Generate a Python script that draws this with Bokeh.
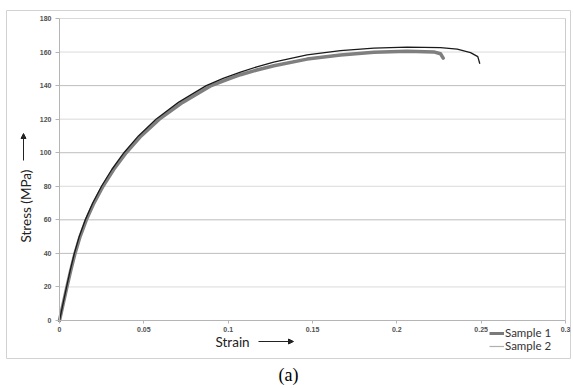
import math
from bokeh.plotting import figure
from bokeh.models import (Range1d, FixedTicker, Label, Arrow, NormalHead,
                          Legend, LegendItem, Title)
from bokeh.embed import file_html
from bokeh.resources import INLINE

# ---------------- data ----------------
s1_strain = [0, 0.0022, 0.0044, 0.0067, 0.0092, 0.0122, 0.0159, 0.0204, 0.0258, 0.0321,
             0.0395, 0.0484, 0.0592, 0.0730, 0.0900, 0.100, 0.1073, 0.117, 0.1271, 0.1468,
             0.1666, 0.1864, 0.2061, 0.2219, 0.2259, 0.2275]
s1_stress = [0, 10, 20, 30, 40, 50, 60, 70, 80, 90,
             100, 110, 120, 130, 140, 143.8, 146.5, 149.3, 151.8, 155.8,
             158.3, 159.9, 160.5, 160.1, 159, 156.4]

s2_strain = [0, 0.0021, 0.0042, 0.0064, 0.0088, 0.0117, 0.0153, 0.0197, 0.0249, 0.0310,
             0.0382, 0.0468, 0.0572, 0.0705, 0.0870, 0.097, 0.1073, 0.117, 0.127, 0.1468,
             0.1666, 0.1864, 0.2061, 0.2259, 0.2358, 0.2437, 0.248, 0.2492]
s2_stress = [0, 10, 20, 30, 40, 50, 60, 70, 80, 90,
             100, 110, 120, 130, 140, 144.3, 148, 151.2, 154, 158.3,
             160.9, 162.3, 162.9, 162.7, 161.8, 159.7, 157.3, 153]

series_names = ["Sample 1", "Sample 2"]
x_ticks = [0, 0.05, 0.1, 0.15, 0.2, 0.25, 0.3]
x_tick_labels = ["0", "0.05", "0.1", "0.15", "0.2", "0.25", "0.3"]
y_ticks = [0, 20, 40, 60, 80, 100, 120, 140, 160, 180]
y_tick_labels = ["0", "20", "40", "60", "80", "100", "120", "140", "160", "180"]
dark_grid_ticks = [40, 60, 100, 140]
x_title = "Strain"
y_title = "Stress (MPa)"
caption = "(a)"

# ---------------- layout (pixels) ----------------
W, H = 573, 388
B_LEFT, B_RIGHT, B_TOP, B_BOTTOM = 6, 3, 10, 30      # chart box = plot frame
FW, FH = W - B_LEFT - B_RIGHT, H - B_TOP - B_BOTTOM
PX0, PX1 = 53, 559      # data area inside the box (x, from box left): 0 and 0.3
PY0, PY1 = 310, 8       # data area inside the box (y, from box top): 0 and 180

x0, x1 = x_ticks[0], x_ticks[-1]
y0, y1 = y_ticks[0], y_ticks[-1]
sx = (PX1 - PX0) / (x1 - x0)
sy = (PY0 - PY1) / (y1 - y0)
x_range = Range1d(x0 - PX0 / sx, x1 + (FW - PX1) / sx)
y_range = Range1d(y0 - (FH - PY0) / sy, y1 + PY1 / sy)

p = figure(width=W, height=H, x_range=x_range, y_range=y_range,
           output_backend="svg", toolbar_location=None,
           min_border_left=B_LEFT, min_border_right=B_RIGHT,
           min_border_top=B_TOP, min_border_bottom=B_BOTTOM)
p.background_fill_color = "white"
p.border_fill_color = "white"
p.outline_line_color = "#d2d2d2"
p.outline_line_width = 1

# axes, placed at the data origin
p.xaxis.fixed_location = y0
p.yaxis.fixed_location = x0
p.xaxis.bounds = (x0, x1)
p.yaxis.bounds = (y0, y1)
p.xaxis.ticker = FixedTicker(ticks=x_ticks)
p.xaxis.major_label_overrides = {t: l for t, l in zip(x_ticks, x_tick_labels)}
p.yaxis.ticker = FixedTicker(ticks=y_ticks)
p.yaxis.major_label_overrides = {t: l for t, l in zip(y_ticks, y_tick_labels)}
for ax in (p.xaxis[0], p.yaxis[0]):
    ax.axis_line_color = "#b5b5b5"
    ax.major_tick_line_color = "#b5b5b5"
    ax.minor_tick_line_color = None
    ax.major_tick_in = 0
    ax.major_label_text_font = "Liberation Sans"
    ax.major_label_text_font_style = "bold"
    ax.major_label_text_font_size = "7px"
    ax.major_label_text_color = "#505050"
p.xaxis.major_tick_out = 3
p.xaxis.major_label_standoff = 3
p.yaxis.major_tick_out = 4
p.yaxis.major_label_standoff = 4

# grid lines limited to the data area
p.xgrid.visible = False
p.ygrid.visible = False
light = [t for t in y_ticks if t not in dark_grid_ticks and t != y0]
p.segment(x0=[x0] * len(light), x1=[x1] * len(light), y0=light, y1=light,
          line_color="#dadada", line_width=1)
p.segment(x0=[x0] * len(dark_grid_ticks), x1=[x1] * len(dark_grid_ticks),
          y0=dark_grid_ticks, y1=dark_grid_ticks, line_color="#bdbdbd", line_width=1)
# right edge of plot area
p.segment(x0=[x1], x1=[x1], y0=[y0], y1=[y1], line_color="#cccccc", line_width=1)

# curves
p.line(s1_strain, s1_stress, line_color="#7f7f7f", line_width=3.5, line_join="round", line_cap="round")
p.line(s2_strain, s2_stress, line_color="#1a1a1a", line_width=1.3, line_join="round")

# legend (glyph styles as drawn in the reference legend)
nan = float("nan")
leg1 = p.line([nan], [nan], line_color="#7a7a7a", line_width=3)
leg2 = p.line([nan], [nan], line_color="#b0b0b0", line_width=1.2)
legend = Legend(items=[LegendItem(label=series_names[0], renderers=[leg1]),
                       LegendItem(label=series_names[1], renderers=[leg2])],
                location=(483, 6), orientation="vertical",
                glyph_width=15, glyph_height=10, label_height=10, label_standoff=1,
                spacing=-2, padding=0, margin=0, border_line_color=None,
                background_fill_alpha=0,
                label_text_font="Lato", label_text_font_size="11.5px",
                label_text_color="#333333")
p.add_layout(legend)

# axis titles (screen units from the box's lower-left corner)
p.add_layout(Label(x=209, y=17, x_units="screen", y_units="screen", text=x_title,
                   text_font="Lato", text_font_size="13.5px", text_color="#222222",
                   text_align="left", text_baseline="middle"))
p.add_layout(Arrow(x_start=252, y_start=17, x_end=287, y_end=17,
                   start_units="screen", end_units="screen",
                   line_color="#222222", line_width=1,
                   end=NormalHead(size=5, fill_color="#222222", line_color="#222222")))
p.add_layout(Label(x=19, y=116, x_units="screen", y_units="screen", text=y_title,
                   angle=math.pi / 2, text_font="Lato", text_font_size="13.5px",
                   text_color="#222222", text_align="left", text_baseline="middle"))
p.add_layout(Arrow(x_start=17, y_start=198, x_end=17, y_end=225,
                   start_units="screen", end_units="screen",
                   line_color="#222222", line_width=1,
                   end=NormalHead(size=5, fill_color="#222222", line_color="#222222")))

# caption below the chart box
p.add_layout(Title(text=caption, align="center", text_font="Liberation Serif",
                   text_font_size="18px", text_font_style="normal",
                   text_color="#000000", standoff=8), "below")

open("out.html", "w").write(file_html(p, INLINE))
